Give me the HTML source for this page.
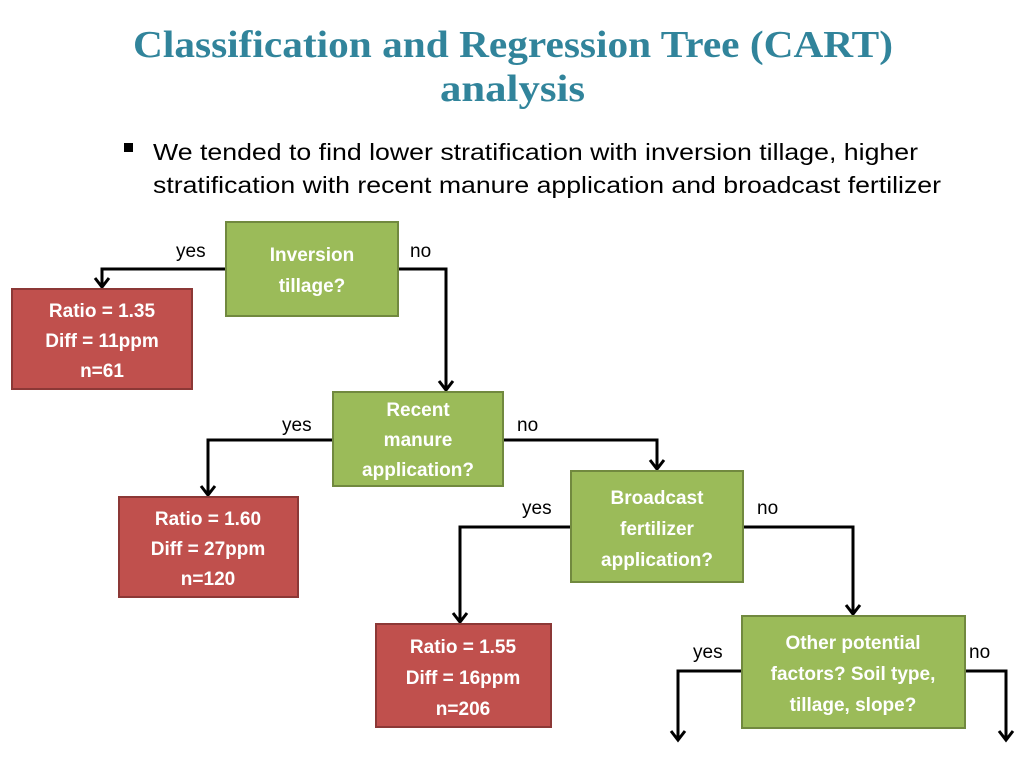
<!DOCTYPE html>
<html><head><meta charset="utf-8"><style>
html,body{margin:0;padding:0;background:#fff;}
svg{display:block;}
.t{font-family:"Liberation Serif",serif;font-weight:bold;fill:#31849b;font-size:38px;}
.b{font-family:"Liberation Sans",sans-serif;fill:#000;font-size:23px;}
.w{font-family:"Liberation Sans",sans-serif;font-weight:bold;fill:#fff;font-size:19px;text-anchor:middle;}
.l{font-family:"Liberation Sans",sans-serif;fill:#000;font-size:19px;}
.g{fill:#9bbb59;stroke:#71893f;stroke-width:2;}
.r{fill:#c0504d;stroke:#8c3836;stroke-width:2;}
.c{fill:none;stroke:#000;stroke-width:3;}
.a{fill:none;stroke:#000;stroke-width:3;}
</style></head><body>
<svg width="1024" height="768" viewBox="0 0 1024 768">
<text class="t" x="133" y="57" textLength="760" lengthAdjust="spacingAndGlyphs">Classification and Regression Tree (CART)</text>
<text class="t" x="440" y="101" textLength="145" lengthAdjust="spacingAndGlyphs">analysis</text>
<rect x="124" y="143" width="9" height="9" fill="#000"/>
<text class="b" x="153" y="160" textLength="765" lengthAdjust="spacingAndGlyphs">We tended to find lower stratification with inversion tillage, higher</text>
<text class="b" x="153" y="193" textLength="788" lengthAdjust="spacingAndGlyphs">stratification with recent manure application and broadcast fertilizer</text>

<!-- connectors -->
<polyline class="c" points="226,269 102,269 102,287"/>
<polyline class="c" points="398,269 446,269 446,390"/>
<polyline class="c" points="333,440 208,440 208,495"/>
<polyline class="c" points="503,440 657,440 657,469"/>
<polyline class="c" points="571,527 460,527 460,622"/>
<polyline class="c" points="743,527 853,527 853,614"/>
<polyline class="c" points="742,671 678,671 678,740"/>
<polyline class="c" points="965,671 1006,671 1006,740"/>
<g class="a">
<polyline points="95,278 102,287 109,278"/>
<polyline points="439,381 446,390 453,381"/>
<polyline points="201,486 208,495 215,486"/>
<polyline points="650,460 657,469 664,460"/>
<polyline points="453,613 460,622 467,613"/>
<polyline points="846,605 853,614 860,605"/>
<polyline points="671,731 678,740 685,731"/>
<polyline points="999,731 1006,740 1013,731"/>
</g>

<!-- boxes -->
<rect class="g" x="226" y="222" width="172" height="94"/>
<text class="w" x="312" y="261">Inversion</text>
<text class="w" x="312" y="292">tillage?</text>

<rect class="r" x="12" y="289" width="180" height="100"/>
<text class="w" x="102" y="317">Ratio = 1.35</text>
<text class="w" x="102" y="347">Diff = 11ppm</text>
<text class="w" x="102" y="377">n=61</text>

<rect class="g" x="333" y="392" width="170" height="94"/>
<text class="w" x="418" y="416">Recent</text>
<text class="w" x="418" y="446">manure</text>
<text class="w" x="418" y="476">application?</text>

<rect class="r" x="119" y="497" width="179" height="100"/>
<text class="w" x="208" y="525">Ratio = 1.60</text>
<text class="w" x="208" y="555">Diff = 27ppm</text>
<text class="w" x="208" y="585">n=120</text>

<rect class="g" x="571" y="471" width="172" height="111"/>
<text class="w" x="657" y="504">Broadcast</text>
<text class="w" x="657" y="535">fertilizer</text>
<text class="w" x="657" y="566">application?</text>

<rect class="r" x="376" y="624" width="175" height="103"/>
<text class="w" x="463" y="653">Ratio = 1.55</text>
<text class="w" x="463" y="684">Diff = 16ppm</text>
<text class="w" x="463" y="715">n=206</text>

<rect class="g" x="742" y="616" width="223" height="112"/>
<text class="w" x="853" y="649">Other potential</text>
<text class="w" x="853" y="680">factors? Soil type,</text>
<text class="w" x="853" y="711">tillage, slope?</text>

<!-- labels -->
<text class="l" x="176" y="257">yes</text>
<text class="l" x="410" y="257">no</text>
<text class="l" x="282" y="431">yes</text>
<text class="l" x="517" y="431">no</text>
<text class="l" x="522" y="514">yes</text>
<text class="l" x="757" y="514">no</text>
<text class="l" x="693" y="658">yes</text>
<text class="l" x="969" y="658">no</text>
</svg>
</body></html>
